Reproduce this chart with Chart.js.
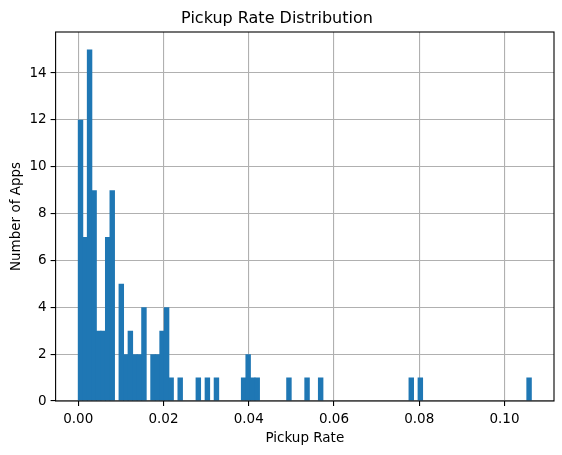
<!DOCTYPE html>
<html>
<head>
<meta charset="utf-8">
<script src="https://cdn.jsdelivr.net/npm/chart.js@4"></script>
<style>
  html, body { margin: 0; padding: 0; background: #fff; }
  #chart { display: block; }
</style>
</head>
<body>
<canvas id="chart" width="562" height="455"></canvas>
<script>
// histogram counts, 100 equal bins between rateMin and rateMax
const counts = [
  12, 7, 15, 9, 3, 3, 7, 9, 0, 5,
  2, 3, 2, 2, 4, 0, 2, 2, 3, 4,
  1, 0, 1, 0, 0, 0, 1, 0, 1, 0,
  1, 0, 0, 0, 0, 0, 1, 2, 1, 1,
  0, 0, 0, 0, 0, 0, 1, 0, 0, 0,
  1, 0, 0, 1, 0, 0, 0, 0, 0, 0,
  0, 0, 0, 0, 0, 0, 0, 0, 0, 0,
  0, 0, 0, 1, 0, 1, 0, 0, 0, 0,
  0, 0, 0, 0, 0, 0, 0, 0, 0, 0,
  0, 0, 0, 0, 0, 0, 0, 0, 0, 1
];
const rateMin = 0;
const rateMax = 0.1063;
const xTicks = [0, 0.02, 0.04, 0.06, 0.08, 0.10];
const yTicks = [0, 2, 4, 6, 8, 10, 12, 14];

const binWidth = (rateMax - rateMin) / counts.length;
const points = counts.map((c, i) => ({ x: rateMin + (i + 0.5) * binWidth, y: c }));
const pad = (rateMax - rateMin) * 0.05;

const frame = {
  id: "frame",
  afterDraw(chart) {
    const a = chart.chartArea;
    const ctx = chart.ctx;
    ctx.save();
    ctx.strokeStyle = "#000";
    ctx.lineWidth = 1.1;
    ctx.strokeRect(a.left, a.top, a.right - a.left, a.bottom - a.top);
    ctx.restore();
  }
};

const ctx = document.getElementById("chart").getContext("2d");
const chart = new Chart(ctx, {
  type: "bar",
  data: {
    datasets: [
      {
        label: "Apps",
        data: points,
        backgroundColor: "#1f77b4",
        borderWidth: 0,
        inflateAmount: 0,
        barPercentage: 1.2,
        categoryPercentage: 1,
      },
    ],
  },
  options: {
    responsive: false,
    animation: false,
    devicePixelRatio: 1,
    layout: { padding: { left: 0, right: 8, top: 0, bottom: 0 } },
    plugins: {
      legend: { display: false },
      tooltip: { enabled: false },
      title: {
        display: true,
        text: "Pickup Rate Distribution",
        color: "#000",
        font: { family: "DejaVu Sans", size: 16, weight: "normal" },
        padding: { top: 9, bottom: 3.8 },
      },
    },
    scales: {
      x: {
        type: "linear",
        min: rateMin - pad,
        max: rateMax + pad,
        offset: false,
        z: 1,
        afterBuildTicks: (s) => { s.ticks = xTicks.map((v) => ({ value: v })); },
        afterFit: (s) => { s.height = 54; },
        grid: { offset: false, color: "#b0b0b0", lineWidth: 1.1, tickColor: "#000", tickLength: 5, tickWidth: 1.1 },
        border: { display: false },
        ticks: {
          color: "#000",
          padding: 5,
          maxRotation: 0,
          font: { family: "DejaVu Sans", size: 13.5 },
          callback: (v) => v.toFixed(2),
        },
        title: {
          display: true,
          text: "Pickup Rate",
          color: "#000",
          font: { family: "DejaVu Sans", size: 13.5 },
          padding: { top: 0, bottom: 8 },
        },
      },
      y: {
        min: 0,
        max: 15.75,
        z: 1,
        afterBuildTicks: (s) => { s.ticks = yTicks.map((v) => ({ value: v })); },
        afterFit: (s) => { s.width = 55.6; },
        grid: { color: "#b0b0b0", lineWidth: 1.1, tickColor: "#000", tickLength: 5, tickWidth: 1.1 },
        border: { display: false },
        ticks: {
          color: "#000",
          padding: 4,
          font: { family: "DejaVu Sans", size: 13.5 },
        },
        title: {
          display: true,
          text: "Number of Apps",
          color: "#000",
          font: { family: "DejaVu Sans", size: 13.5 },
          padding: { top: 8, bottom: 0 },
        },
      },
    },
  },
  plugins: [frame],
});
</script>
</body>
</html>
